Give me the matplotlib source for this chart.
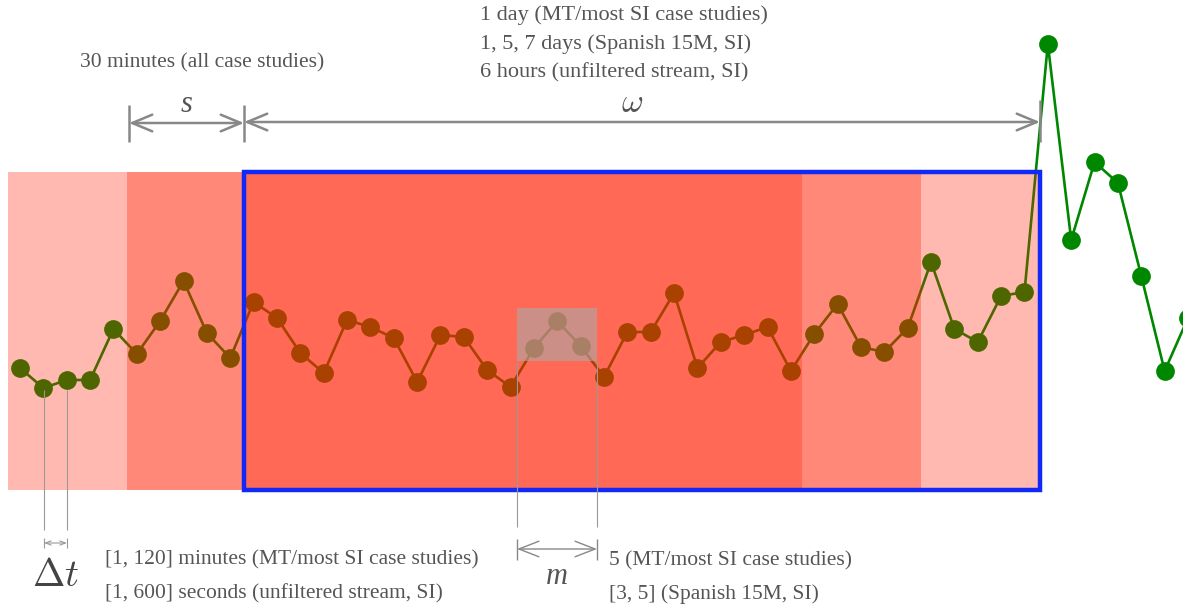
import numpy as np
import matplotlib
matplotlib.use("Agg")
import matplotlib.pyplot as plt
from matplotlib.patches import Rectangle

# ---- data: activity series (height above window baseline) ----
values = [122, 102, 110, 110, 161, 136, 169, 209, 157, 132,
          188, 172, 137, 117, 170, 163, 152, 108, 155, 153,
          120, 103, 142, 169, 144, 113, 158, 158, 197, 122,
          148, 155, 163, 119, 156, 186, 143, 138, 162, 228,
          161, 148, 194, 198, 446, 250, 328, 307, 214, 119, 172]

s_label = "30 minutes (all case studies)"
w_labels = ["1 day (MT/most SI case studies)",
            "1, 5, 7 days (Spanish 15M, SI)",
            "6 hours (unfiltered stream, SI)"]
dt_labels = ["[1, 120] minutes (MT/most SI case studies)",
             "[1, 600] seconds (unfiltered stream, SI)"]
m_labels = ["5 (MT/most SI case studies)",
            "[3, 5] (Spanish 15M, SI)"]

# ---- layout helpers (pixel -> data) ----
W, H = 1183, 613
X0, DX, BASE = 20.0, 23.36, 490.0
def X(px):
    return (px - X0) / DX
def Y(py):
    return BASE - py

plt.rcParams['mathtext.fontset'] = 'cm'
fig = plt.figure(figsize=(W / 100, H / 100), dpi=100)
ax = fig.add_axes([0, 0, 1, 1])
ax.set_xlim(X(0), X(W))
ax.set_ylim(Y(H), Y(0))
ax.axis('off')

idx = np.arange(len(values))
green = '#008700'
ax.plot(idx, values, '-', color=green, lw=1.9, zorder=2)
ax.plot(idx, values, 'o', color=green, ms=13.5, mec='none', zorder=2)

# overlay bands
overlay = '#ff1e00'
bands = [(8, 127, 0.31), (127, 244, 0.53), (244, 802, 0.667),
         (802, 921, 0.53), (921, 1040, 0.31)]
for a, b, al in bands:
    ax.add_patch(Rectangle((X(a), Y(490)), X(b) - X(a), Y(172) - Y(490),
                           facecolor=overlay, alpha=al, edgecolor='none', zorder=3))

# grey m box
ax.add_patch(Rectangle((X(517), Y(361)), X(597) - X(517), Y(308) - Y(361),
                       facecolor='#aaaaaa', alpha=0.6, edgecolor='none', zorder=4))

# blue window rectangle
ax.add_patch(Rectangle((X(244), Y(490)), X(1040) - X(244), Y(172) - Y(490),
                       facecolor='none', edgecolor='#1029f8', lw=3.2, zorder=5))

gline = '#888888'
tcol = '#555555'
serif = 'Liberation Serif'
fs = 15.5

def harrow(x1, x2, y, ms=20, lw=1.8, hl=0.72, hw=0.3):
    ax.annotate('', xy=(X(x2), Y(y)), xytext=(X(x1), Y(y)),
                arrowprops=dict(arrowstyle=f'<->,head_length={hl},head_width={hw}',
                                color=gline, lw=lw, shrinkA=0, shrinkB=0,
                                mutation_scale=ms), zorder=6)

def vline(x, y1, y2, lw=1.8, c=gline):
    ax.plot([X(x), X(x)], [Y(y1), Y(y2)], color=c, lw=lw, zorder=6,
            solid_capstyle='butt')

# s arrow
vline(129, 105, 142)
vline(244, 105, 142)
harrow(129, 244, 123)
# omega arrow
vline(1040, 100, 142)
harrow(244, 1040, 122)

ax.text(X(187), Y(104), 's', fontsize=22, family=serif, style='italic',
        color=tcol, ha='center', va='center', zorder=7)
ax.text(X(632), Y(103), r'$\omega$', fontsize=24, color=tcol,
        ha='center', va='center', zorder=7)

ax.text(X(80), Y(63), s_label, fontsize=fs, family=serif, color=tcol,
        ha='left', va='center', zorder=7)
for i, t in enumerate(w_labels):
    ax.text(X(480), Y(15 + 29 * i), t, fontsize=16, family=serif, color=tcol,
            ha='left', va='center', zorder=7)

# delta t
thin = '#999999'
vline(44, 390, 530, lw=0.8, c=thin)
vline(67, 390, 530, lw=0.8, c=thin)
vline(44, 538, 548, lw=0.8, c=thin)
vline(67, 538, 548, lw=0.8, c=thin)
ax.annotate('', xy=(X(67), Y(543)), xytext=(X(44), Y(543)),
            arrowprops=dict(arrowstyle='<->,head_length=0.4,head_width=0.15',
                            color=thin, lw=0.8, shrinkA=0, shrinkB=0,
                            mutation_scale=10), zorder=6)
ax.text(X(56), Y(575), r'$\Delta t$', fontsize=28, color='#444444',
        ha='center', va='center', zorder=7)
for i, t in enumerate(dt_labels):
    ax.text(X(105), Y(560 + 34 * i), t, fontsize=fs, family=serif, color=tcol,
            ha='left', va='center', zorder=7)

# m
vline(517, 361, 527, lw=0.8, c=thin)
vline(597, 361, 527, lw=0.8, c=thin)
vline(517, 539, 560, lw=1.0, c=gline)
vline(597, 539, 560, lw=1.0, c=gline)
harrow(517, 597, 549, ms=16, lw=1.0, hl=0.9, hw=0.35)
ax.text(X(557), Y(576), 'm', fontsize=22, family=serif, style='italic',
        color=tcol, ha='center', va='center', zorder=7)
for i, t in enumerate(m_labels):
    ax.text(X(609), Y(561 + 33 * i), t, fontsize=fs, family=serif, color=tcol,
            ha='left', va='center', zorder=7)

fig.savefig('out.png', dpi=100)
